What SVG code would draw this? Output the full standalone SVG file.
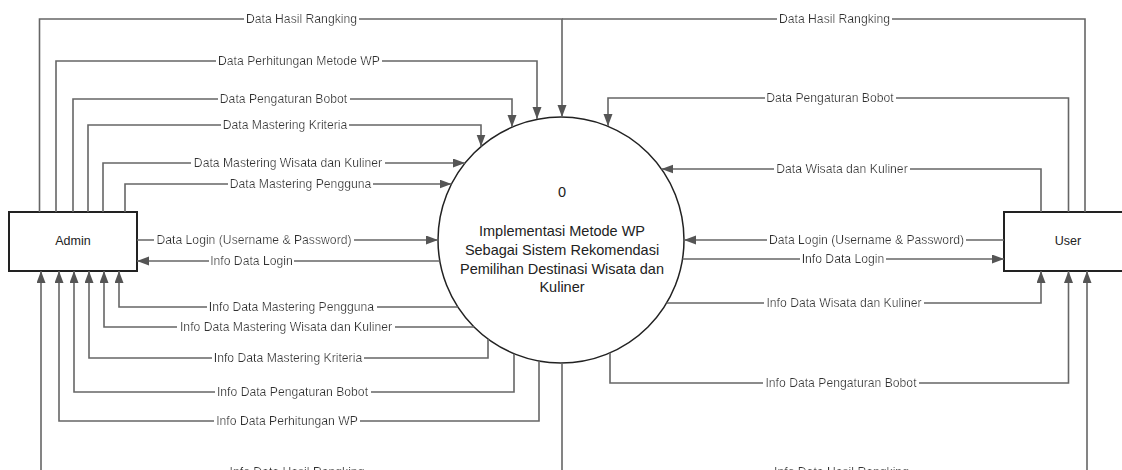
<svg xmlns="http://www.w3.org/2000/svg" width="1122" height="470" viewBox="0 0 1122 470">
<style>
.ln{fill:none;stroke:#666;stroke-width:1.6}
.ar{marker-end:url(#arr)}
.lb{font-family:"Liberation Sans",Arial,sans-serif;font-size:12.2px;fill:#333;text-anchor:middle;filter:url(#bg)}
.nt{font-family:"Liberation Sans",Arial,sans-serif;font-size:14.5px;fill:#222;text-anchor:middle}
.box{fill:#fff;stroke:#222;stroke-width:2}
.proc{fill:#fff;stroke:#222;stroke-width:1.5}
</style>
<defs>
<marker id="arr" markerUnits="userSpaceOnUse" markerWidth="13" markerHeight="10" refX="12" refY="4.5" orient="auto">
<path d="M0,0 L12,4.5 L0,9 z" fill="#555"/>
</marker>
<filter id="bg" x="-0.01" y="0" width="1.02" height="1">
<feFlood flood-color="#fff" result="b"/>
<feMerge><feMergeNode in="b"/><feMergeNode in="SourceGraphic"/></feMerge>
</filter>
</defs>
<rect width="1122" height="470" fill="#fff"/>

<g id="admin">
<rect class="box" x="9" y="212" width="128" height="59"/>
<text class="nt" x="73" y="245" style="font-size:12.5px">Admin</text>
</g>
<g id="user">
<rect class="box" x="1004" y="212" width="128" height="59"/>
<text class="nt" x="1068" y="245" style="font-size:12.5px">User</text>
</g>
<g id="process">
<circle class="proc" cx="561" cy="240" r="123"/>
<text class="nt" x="562" y="197">0</text>
<text class="nt" x="562" y="236">Implementasi Metode WP</text>
<text class="nt" x="562" y="255">Sebagai Sistem Rekomendasi</text>
<text class="nt" x="562" y="274">Pemilihan Destinasi Wisata dan</text>
<text class="nt" x="562" y="292">Kuliner</text>
</g>

<g id="connectors">
<!-- Admin to process -->
<path class="ln ar" d="M39.5,212 V19 H562 V117"/>
<path class="ln" d="M1085,212 V19 H562"/>
<path class="ln ar" d="M56,212 V61 H537 V119"/>
<path class="ln ar" d="M73,212 V99 H512 V127"/>
<path class="ln ar" d="M88,212 V125 H481 V146.5"/>
<path class="ln ar" d="M103,212 V163 H465"/>
<path class="ln ar" d="M125,212 V184 H451.5"/>
<path class="ln ar" d="M137,240 H438"/>
<!-- process to Admin -->
<path class="ln ar" d="M439.8,261 H137"/>
<path class="ln ar" d="M457.8,307 H119 V271"/>
<path class="ln ar" d="M474,327 H104 V271"/>
<path class="ln ar" d="M488,339 V358 H89 V271"/>
<path class="ln ar" d="M514,353.7 V392 H74 V271"/>
<path class="ln ar" d="M539,361 V421 H59 V271"/>
<path class="ln ar" d="M562,363 V476 H41 V271"/>
<path class="ln ar" d="M562,476 H1087 V271"/>
<!-- User to process -->
<path class="ln ar" d="M1068.5,212 V98 H608 V126"/>
<path class="ln ar" d="M1041,212 V169 H661.4"/>
<path class="ln ar" d="M1004,240 H684"/>
<!-- process to User -->
<path class="ln ar" d="M682.5,259 H1004"/>
<path class="ln ar" d="M666.6,303 H1041 V271"/>
<path class="ln ar" d="M610,352.8 V383 H1068.5 V271"/>

<!-- labels -->
<text class="lb" x="301.5" y="23.3">Data Hasil Rangking</text>
<text class="lb" x="299" y="65.3">Data Perhitungan Metode WP</text>
<text class="lb" x="283.5" y="103.3">Data Pengaturan Bobot</text>
<text class="lb" x="285" y="129.3">Data Mastering Kriteria</text>
<text class="lb" x="288" y="167.3">Data Mastering Wisata dan Kuliner</text>
<text class="lb" x="300.5" y="188.3">Data Mastering Pengguna</text>
<text class="lb" x="254" y="244.3">Data Login (Username &amp; Password)</text>
<text class="lb" x="251.5" y="265.3">Info Data Login</text>
<text class="lb" x="291.5" y="311.3">Info Data Mastering Pengguna</text>
<text class="lb" x="286" y="331.3">Info Data Mastering Wisata dan Kuliner</text>
<text class="lb" x="288" y="362.3">Info Data Mastering Kriteria</text>
<text class="lb" x="292.5" y="396.3">Info Data Pengaturan Bobot</text>
<text class="lb" x="287" y="425.3">Info Data Perhitungan WP</text>
<text class="lb" x="297" y="476">Info Data Hasil Rangking</text>
<text class="lb" x="834.5" y="23.3">Data Hasil Rangking</text>
<text class="lb" x="830" y="102.3">Data Pengaturan Bobot</text>
<text class="lb" x="842" y="173.3">Data Wisata dan Kuliner</text>
<text class="lb" x="866.5" y="244.3">Data Login (Username &amp; Password)</text>
<text class="lb" x="843" y="263.3">Info Data Login</text>
<text class="lb" x="844" y="307.3">Info Data Wisata dan Kuliner</text>
<text class="lb" x="841" y="387.3">Info Data Pengaturan Bobot</text>
<text class="lb" x="841.5" y="476">Info Data Hasil Rangking</text>
</g>
</svg>
